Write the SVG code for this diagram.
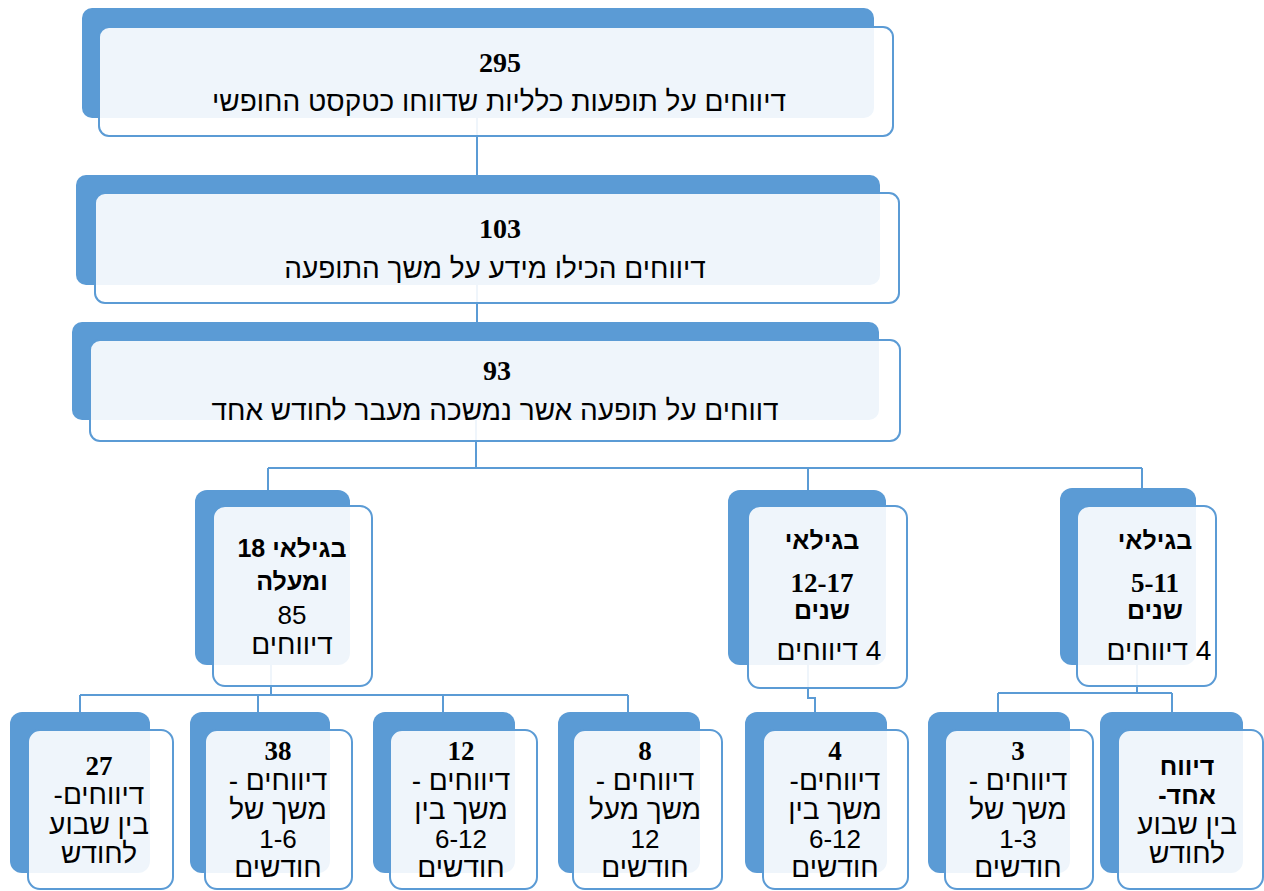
<svg xmlns="http://www.w3.org/2000/svg" width="1264" height="891" viewBox="0 0 1264 891">
<style>
.back{fill:#5B9BD5}
.front{fill:#ffffff;fill-opacity:0.9;stroke:#5B9BD5;stroke-width:2}
.conn{stroke:#5B9BD5;stroke-width:2;fill:none}
text{font-family:"Liberation Sans","DejaVu Sans",sans-serif;fill:#000;text-anchor:middle;direction:rtl}
.L{font-size:28px}
.N{font-family:"Liberation Serif","DejaVu Serif",serif;font-weight:bold;font-size:28px}
.B{font-family:"Liberation Serif","DejaVu Serif",serif;font-weight:bold;font-size:27px}
.H{font-weight:bold;font-size:25px}
.S{font-size:28px}
.D{font-size:26px}
</style>
<rect width="1264" height="891" fill="#ffffff"/>
<g id="connectors">
<path class="conn" d="M477,118 V175"/>
<path class="conn" d="M477,285 V322"/>
<path class="conn" d="M476,420 V468 M268,468 H1142 M268,468 V490 M808,468 V490 M1142,468 V488"/>
<path class="conn" d="M271,665 V695 M80,695 H628 M80,695 V712 M258,695 V712 M443,695 V712 M628,695 V712"/>
<path class="conn" d="M808,665 V698 H815 V712"/>
<path class="conn" d="M1137,665 V693 M998,693 H1172 M998,693 V712 M1172,693 V712"/>
</g>
<g id="n295">
<rect class="back" x="82" y="8" width="792" height="110" rx="10"/>
<rect class="front" x="99" y="27" width="794" height="109" rx="10"/>
<text class="N" x="500" y="72">295</text>
<text class="L" x="499" y="111">דיווחים על תופעות כלליות שדווחו כטקסט החופשי</text>
</g>
<g id="n103">
<rect class="back" x="76" y="175" width="804" height="110" rx="10"/>
<rect class="front" x="95" y="193" width="804" height="110" rx="10"/>
<text class="N" x="500" y="238">103</text>
<text class="L" x="495" y="278">דיווחים הכילו מידע על משך התופעה</text>
</g>
<g id="n93">
<rect class="back" x="72" y="322" width="807" height="98" rx="10"/>
<rect class="front" x="90" y="340" width="810" height="101" rx="10"/>
<text class="N" x="497" y="380">93</text>
<text class="L" x="495" y="420">דווחים על תופעה אשר נמשכה מעבר לחודש אחד</text>
</g>
<g id="n18">
<rect class="back" x="195" y="490" width="155" height="175" rx="12"/>
<rect class="front" x="213" y="506" width="159" height="180" rx="12"/>
<text class="H" x="292" y="557">בגילאי 18</text>
<text class="H" x="292" y="590">ומעלה</text>
<text class="D" x="292" y="624">85</text>
<text class="S" x="292" y="654">דיווחים</text>
</g>
<g id="n12_17">
<rect class="back" x="728" y="490" width="158" height="175" rx="12"/>
<rect class="front" x="748" y="506" width="159" height="182" rx="12"/>
<text class="H" x="822" y="549">בגילאי</text>
<text class="B" x="822" y="592">12-17</text>
<text class="H" x="822" y="619">שנים</text>
<text class="S" x="829" y="660">4 דיווחים</text>
</g>
<g id="n5_11">
<rect class="back" x="1060" y="488" width="136" height="177" rx="12"/>
<rect class="front" x="1077" y="506" width="139" height="180" rx="12"/>
<text class="H" x="1155" y="549">בגילאי</text>
<text class="B" x="1155" y="592">5-11</text>
<text class="H" x="1155" y="619">שנים</text>
<text class="S" x="1159" y="660">4 דיווחים</text>
</g>
<g id="b27">
<rect class="back" x="10" y="712" width="140" height="161" rx="12"/>
<rect class="front" x="28" y="730" width="145" height="159" rx="12"/>
<text class="B" x="99" y="775">27</text>
<text class="S" x="99" y="804">דיווחים-</text>
<text class="S" x="99" y="834">בין שבוע</text>
<text class="S" x="99" y="863">לחודש</text>
</g>
<g id="b38">
<rect class="back" x="190" y="712" width="140" height="161" rx="12"/>
<rect class="front" x="205" y="730" width="147" height="159" rx="12"/>
<text class="B" x="278" y="760">38</text>
<text class="S" x="278" y="790">דיווחים -</text>
<text class="S" x="278" y="819">משך של</text>
<text class="D" x="278" y="848">1-6</text>
<text class="S" x="278" y="877">חודשים</text>
</g>
<g id="b12">
<rect class="back" x="373" y="712" width="142" height="161" rx="12"/>
<rect class="front" x="390" y="730" width="147" height="159" rx="12"/>
<text class="B" x="461" y="760">12</text>
<text class="S" x="461" y="790">דיווחים -</text>
<text class="S" x="461" y="819">משך בין</text>
<text class="D" x="461" y="848">6-12</text>
<text class="S" x="461" y="877">חודשים</text>
</g>
<g id="b8">
<rect class="back" x="558" y="712" width="142" height="161" rx="12"/>
<rect class="front" x="573" y="730" width="149" height="159" rx="12"/>
<text class="B" x="645" y="760">8</text>
<text class="S" x="645" y="790">דיווחים -</text>
<text class="S" x="645" y="819">משך מעל</text>
<text class="D" x="645" y="848">12</text>
<text class="S" x="645" y="877">חודשים</text>
</g>
<g id="b4">
<rect class="back" x="745" y="712" width="142" height="161" rx="12"/>
<rect class="front" x="763" y="730" width="145" height="159" rx="12"/>
<text class="B" x="835" y="760">4</text>
<text class="S" x="835" y="790">דיווחים-</text>
<text class="S" x="835" y="819">משך בין</text>
<text class="D" x="835" y="848">6-12</text>
<text class="S" x="835" y="877">חודשים</text>
</g>
<g id="b3">
<rect class="back" x="928" y="712" width="142" height="161" rx="12"/>
<rect class="front" x="945" y="730" width="148" height="159" rx="12"/>
<text class="B" x="1018" y="760">3</text>
<text class="S" x="1018" y="790">דיווחים -</text>
<text class="S" x="1018" y="819">משך של</text>
<text class="D" x="1018" y="848">1-3</text>
<text class="S" x="1018" y="877">חודשים</text>
</g>
<g id="b1">
<rect class="back" x="1100" y="712" width="143" height="161" rx="12"/>
<rect class="front" x="1118" y="730" width="145" height="159" rx="12"/>
<text class="H" x="1187" y="775">דיווח</text>
<text class="H" x="1187" y="804">אחד-</text>
<text class="S" x="1187" y="834">בין שבוע</text>
<text class="S" x="1187" y="863">לחודש</text>
</g>
</svg>
